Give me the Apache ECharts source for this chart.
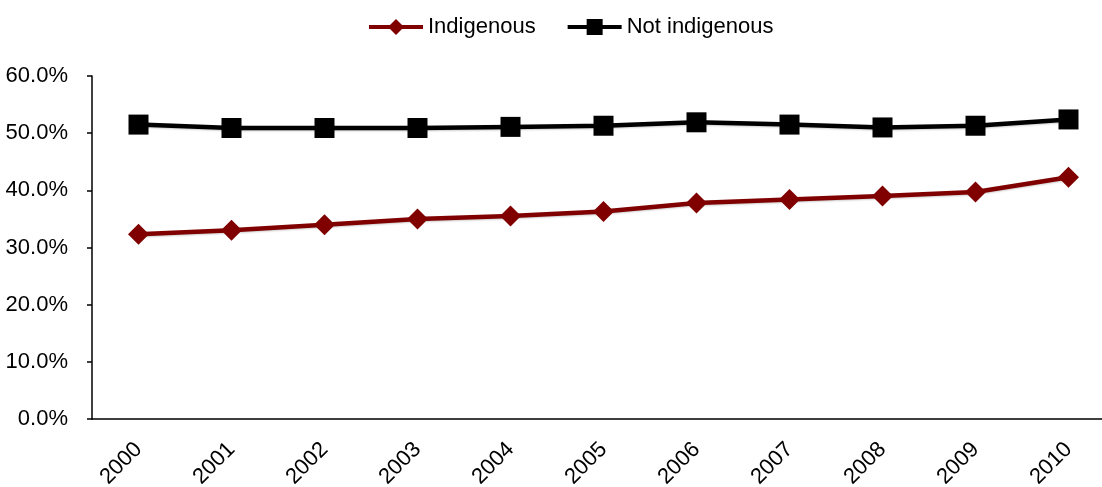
<!DOCTYPE html>
<html>
<head>
<meta charset="utf-8">
<script src="https://cdn.jsdelivr.net/npm/echarts@6/dist/echarts.min.js"></script>
<style>
  html, body { margin: 0; padding: 0; background: #fff; }
  #chart { width: 1102px; height: 487px; }
</style>
</head>
<body>
<div id="chart"></div>
<script>
// Share of population (%) by year
const years = ['2000', '2001', '2002', '2003', '2004', '2005', '2006', '2007', '2008', '2009', '2010'];
const indigenous = [32.3, 33.0, 34.0, 35.0, 35.5, 36.3, 37.8, 38.4, 39.0, 39.7, 42.3];
const notIndigenous = [51.5, 50.9, 50.9, 50.9, 51.1, 51.3, 51.9, 51.5, 51.0, 51.3, 52.4];

const FONT = '"Liberation Sans", Arial, sans-serif';

const chart = echarts.init(document.getElementById('chart'));
chart.setOption({
  animation: false,
  backgroundColor: '#ffffff',
  textStyle: { fontFamily: FONT },
  legend: {
    top: 11,
    left: 362,
    itemWidth: 54,
    itemHeight: 20,
    itemGap: 30,
    lineStyle: { width: 4 },
    textStyle: { fontFamily: FONT, fontSize: 22, color: '#000' },
    data: ['Indigenous', 'Not indigenous']
  },
  grid: { left: 92, right: -13, top: 76, bottom: 68, containLabel: false, outerBoundsMode: 'none' },
  xAxis: {
    type: 'category',
    data: years,
    boundaryGap: true,
    axisLine: { lineStyle: { color: '#000', width: 1.5 } },
    axisTick: { inside: true, length: 7, lineStyle: { color: '#000', width: 1.5 } },
    axisLabel: { rotate: 45, margin: 27, fontSize: 22, color: '#000', fontFamily: FONT }
  },
  yAxis: {
    type: 'value',
    min: 0,
    max: 60,
    interval: 10,
    axisLine: { show: true, lineStyle: { color: '#000', width: 1.5 } },
    axisTick: { show: true, length: 5, lineStyle: { color: '#000', width: 1.5 } },
    splitLine: { show: false },
    axisLabel: {
      margin: 24, fontSize: 22, color: '#000', fontFamily: FONT,
      formatter: v => v.toFixed(1) + '%'
    }
  },
  series: [
    {
      name: 'Indigenous',
      type: 'line',
      data: indigenous,
      symbol: 'diamond',
      symbolSize: 21,
      itemStyle: { color: '#800000' },
      lineStyle: { color: '#800000', width: 4.5, shadowColor: 'rgba(0,0,0,0.2)', shadowBlur: 2, shadowOffsetY: 1 }
    },
    {
      name: 'Not indigenous',
      type: 'line',
      data: notIndigenous,
      symbol: 'rect',
      symbolSize: 20,
      itemStyle: { color: '#000000' },
      lineStyle: { color: '#000000', width: 4.5, shadowColor: 'rgba(0,0,0,0.2)', shadowBlur: 2, shadowOffsetY: 1 }
    }
  ]
});
</script>
</body>
</html>
